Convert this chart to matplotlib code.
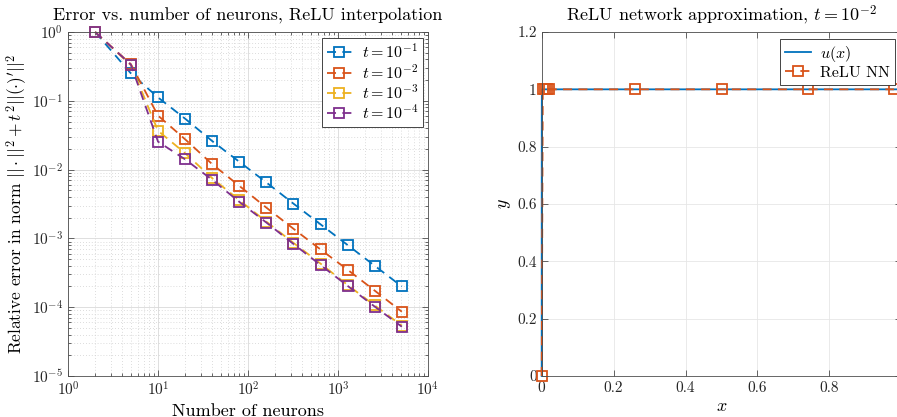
import matplotlib
matplotlib.use("Agg")
import matplotlib.pyplot as plt
from matplotlib.ticker import LogLocator, NullFormatter

plt.rcParams['font.family'] = ['cmr10', 'DejaVu Serif']
plt.rcParams['mathtext.fontset'] = 'cm'
plt.rcParams['axes.formatter.use_mathtext'] = True
plt.rcParams['axes.unicode_minus'] = False

# ---- data: left panel ----
neurons = [2, 5, 10, 20, 40, 80, 160, 320, 640, 1280, 2560, 5120]
err_t1 = [1.0, 0.25, 0.112, 0.055, 0.026, 0.013, 0.0065, 0.0032, 0.0016, 0.0008, 0.0004, 0.0002]
err_t2 = [1.0, 0.34, 0.061, 0.0276, 0.012, 0.0058, 0.0028, 0.00138, 0.00069, 0.00035, 0.000174, 0.000086]
err_t3 = [1.0, 0.33, 0.0367, 0.0173, 0.0075, 0.0036, 0.00175, 0.00086, 0.00043, 0.00021, 0.000106, 0.000054]
err_t4 = [1.0, 0.335, 0.0255, 0.0141, 0.0071, 0.0034, 0.0017, 0.00083, 0.00041, 0.000204, 0.000102, 0.000052]
series_labels = [r'$t=10^{-1}$', r'$t=10^{-2}$', r'$t=10^{-3}$', r'$t=10^{-4}$']

# ---- data: right panel ----
u_x = [0.0, 0.0001, 0.0002, 0.0003, 0.0005, 0.001, 1.0]
u_y = [0.0, 0.63, 0.86, 0.95, 0.99, 1.0, 1.0]
nn_x = [0.0, 0.003, 0.009, 0.015, 0.021, 0.26, 0.50, 0.74, 0.98]
nn_y = [0.0, 1.0, 1.0, 1.0, 1.0, 1.0, 1.0, 1.0, 1.0]
x_ticks = [0, 0.2, 0.4, 0.6, 0.8]
x_ticklabels = ['0', '0.2', '0.4', '0.6', '0.8']
y_ticks = [0, 0.2, 0.4, 0.6, 0.8, 1.0, 1.2]
y_ticklabels = ['0', '0.2', '0.4', '0.6', '0.8', '1', '1.2']

colors = ['#0072BD', '#D95319', '#EDB120', '#7E2F8E']
spine_c = '#4d4d4d'
grid_c = '#d9d9d9'

W, H = 897, 417
fig = plt.figure(figsize=(W / 100, H / 100), dpi=100)
ax1 = fig.add_axes([68 / W, 1 - 376 / H, 360 / W, 344 / H])
ax2 = fig.add_axes([541.7 / W, 1 - 376 / H, 359.6 / W, 344 / H])

def style(ax):
    for s in ax.spines.values():
        s.set_color(spine_c)
        s.set_linewidth(0.6)
    ax.tick_params(direction='in', which='both', colors=spine_c, labelcolor='#262626',
                   labelsize=11, top=True, right=True, width=0.6)
    ax.tick_params(which='major', length=4)
    ax.tick_params(which='minor', length=2)
    ax.set_axisbelow(True)

# left
for ys, c, lab in zip([err_t1, err_t2, err_t3, err_t4], colors, series_labels):
    ax1.loglog(neurons, ys, linestyle=(0, (5, 3.5)), color=c, lw=1.3, marker='s',
               markersize=7, markerfacecolor='none', markeredgewidth=1.3, label=lab,
               clip_on=False)
ax1.set_xlim(1, 1e4)
ax1.set_ylim(1e-5, 1)
ax1.xaxis.set_major_locator(LogLocator(base=10, numticks=10))
ax1.yaxis.set_major_locator(LogLocator(base=10, numticks=10))
ax1.xaxis.set_minor_locator(LogLocator(base=10, subs=range(2, 10), numticks=20))
ax1.yaxis.set_minor_locator(LogLocator(base=10, subs=range(2, 10), numticks=20))
ax1.xaxis.set_minor_formatter(NullFormatter())
ax1.yaxis.set_minor_formatter(NullFormatter())
ax1.grid(True, which='major', color=grid_c, lw=0.6, ls='-')
ax1.grid(True, which='minor', color='#d0d0d0', lw=0.6, ls=(0, (1, 2.5)))
style(ax1)
ax1.set_title('Error vs. number of neurons, ReLU interpolation', fontsize=13, pad=8)
ax1.set_xlabel('Number of neurons', fontsize=13, labelpad=3)
ax1.set_ylabel(r"Relative error in norm $||\cdot||^2+t^2||(\cdot)'||^2$", fontsize=12.5, labelpad=2)
leg1 = ax1.legend(loc='upper right', bbox_to_anchor=(0.986, 0.983), fontsize=11.5,
                  handlelength=1.6, borderpad=0.3, labelspacing=0.12, handletextpad=0.6,
                  fancybox=False, edgecolor='#262626', framealpha=1, borderaxespad=0)
leg1.get_frame().set_linewidth(0.6)

# right
ax2.plot(u_x, u_y, color=colors[0], lw=1.3, label=r'$u(x)$', clip_on=False)
ax2.plot(nn_x, nn_y, color=colors[1], lw=1.3, linestyle=(0, (5, 3.5)), marker='s',
         markersize=7, markerfacecolor='none', markeredgewidth=1.3, label='ReLU NN',
         clip_on=False)
ax2.set_xlim(0, 1)
ax2.set_ylim(0, 1.2)
ax2.set_xticks(x_ticks)
ax2.set_xticklabels(x_ticklabels)
ax2.set_yticks(y_ticks)
ax2.set_yticklabels(y_ticklabels)
ax2.grid(True, which='major', color='#e6e6e6', lw=0.6, ls='-')
style(ax2)
ax2.set_title(r'ReLU network approximation, $t=10^{-2}$', fontsize=13, pad=8)
ax2.set_xlabel(r'$x$', fontsize=13, labelpad=3)
ax2.set_ylabel(r'$y$', fontsize=13, labelpad=3)
leg2 = ax2.legend(loc='upper right', bbox_to_anchor=((895 - 541.7) / 359.6, (376 - 39) / 344),
                  fontsize=11.5, handlelength=1.6, borderpad=0.3, labelspacing=0.12,
                  handletextpad=0.6, fancybox=False, edgecolor='#262626', framealpha=1,
                  borderaxespad=0)
leg2.get_frame().set_linewidth(0.6)

fig.savefig('out.png', dpi=100)
